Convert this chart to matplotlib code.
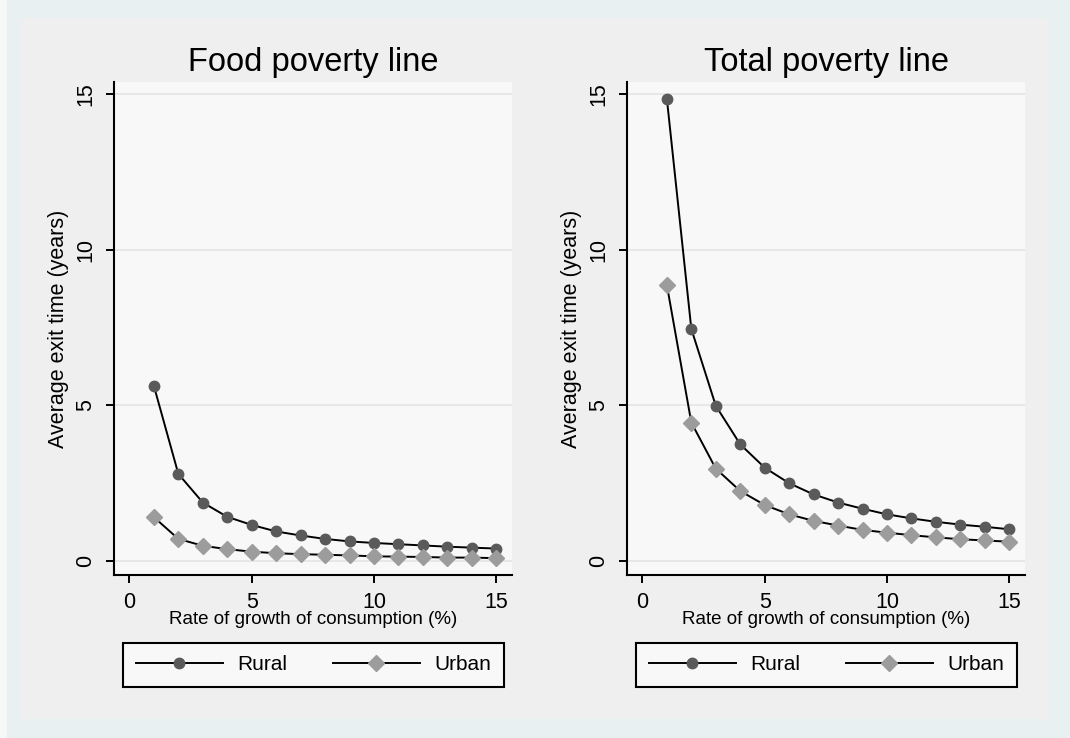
import matplotlib
matplotlib.use("Agg")
import matplotlib.pyplot as plt
from matplotlib.patches import Rectangle

plt.rcParams['font.family'] = ['Liberation Sans', 'DejaVu Sans']

growth = list(range(1, 16))
food_rural = [5.62, 2.79, 1.87, 1.41, 1.15, 0.94, 0.81, 0.70, 0.62, 0.57, 0.53, 0.49, 0.45, 0.42, 0.39]
food_urban = [1.40, 0.70, 0.48, 0.37, 0.29, 0.24, 0.21, 0.19, 0.17, 0.14, 0.13, 0.12, 0.10, 0.10, 0.08]
total_rural = [14.85, 7.45, 4.98, 3.74, 2.99, 2.49, 2.13, 1.87, 1.67, 1.49, 1.36, 1.25, 1.16, 1.09, 1.01]
total_urban = [8.86, 4.44, 2.96, 2.24, 1.79, 1.49, 1.28, 1.13, 0.99, 0.90, 0.82, 0.75, 0.69, 0.65, 0.61]

titles = ["Food poverty line", "Total poverty line"]
series_labels = ["Rural", "Urban"]
xticks = [0, 5, 10, 15]
yticks = [0, 5, 10, 15]

W, H = 1070, 738
fig = plt.figure(figsize=(W / 100, H / 100), dpi=100)
fig.patch.set_facecolor('#F6F8F8')
fig.patches.append(Rectangle((7 / W, 0), 1 - 7 / W, 1, transform=fig.transFigure,
                             facecolor='#E8F0F2', edgecolor='none', zorder=-10))
fig.patches.append(Rectangle((21 / W, 1 - 719 / H), (1049 - 21) / W, (719 - 18) / H,
                             transform=fig.transFigure, facecolor='#EFEFEF',
                             edgecolor='none', zorder=-9))

panels = [(114, food_rural, food_urban, 123), (627, total_rural, total_urban, 636)]

for i, (left_px, rural, urban, leg_px) in enumerate(panels):
    ax = fig.add_axes([left_px / W, 1 - 575 / H, 398 / W, (575 - 82) / H])
    ax.set_facecolor('#F8F8F8')
    for s in ['top', 'right']:
        ax.spines[s].set_visible(False)
    for s in ['left', 'bottom']:
        ax.spines[s].set_color('black')
        ax.spines[s].set_linewidth(1.5)
    ax.set_xlim(-0.63, 15.64)
    ax.set_ylim(-0.46, 15.39)
    ax.set_xticks(xticks)
    ax.set_yticks(yticks)
    ax.grid(axis='y', color='#E4E4E4', linewidth=1.2)
    ax.set_axisbelow(True)
    ax.tick_params(axis='both', length=6, width=1.4, labelsize=15.5, colors='black')
    ax.tick_params(axis='x', pad=6)
    ax.tick_params(axis='y', pad=7)
    for lab in ax.get_yticklabels():
        lab.set_rotation(90)
        lab.set_va('center')

    l1, = ax.plot(growth, rural, color='black', linewidth=1.4, marker='o',
                  markersize=7.5, markerfacecolor='#5A5A5A', markeredgecolor='#5A5A5A',
                  label=series_labels[0], zorder=3)
    l2, = ax.plot(growth, urban, color='black', linewidth=1.4, marker='D',
                  markersize=8.5, markerfacecolor='#9C9C9C', markeredgecolor='#9C9C9C',
                  label=series_labels[1], zorder=3)

    ax.set_title(titles[i], fontsize=23.5, pad=8)
    ax.set_xlabel("Rate of growth of consumption (%)", fontsize=13.5, labelpad=-1)
    ax.set_ylabel("Average exit time (years)", fontsize=15.5, labelpad=4)

    leg = fig.legend(handles=[l1, l2], labels=series_labels, ncol=2,
                     loc='upper left',
                     bbox_to_anchor=(leg_px / W, 1 - 687 / H, 381 / W, 44 / H),
                     bbox_transform=fig.transFigure, mode='expand',
                     fontsize=15, handlelength=4.2, handletextpad=0.7,
                     borderpad=0.6, columnspacing=1.8, fancybox=False,
                     framealpha=1, borderaxespad=0)
    leg.get_frame().set_edgecolor('black')
    leg.get_frame().set_linewidth(1.5)
    leg.get_frame().set_facecolor('#F8F8F8')

fig.savefig("out.png", dpi=100, facecolor=fig.get_facecolor())
